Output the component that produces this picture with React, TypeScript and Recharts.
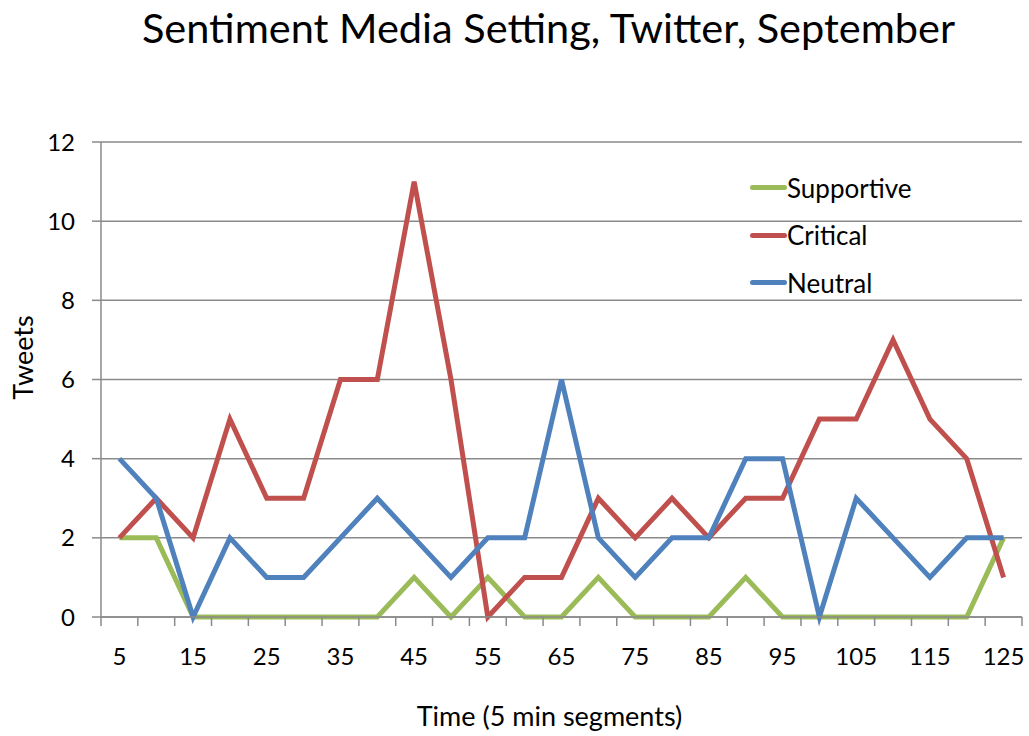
import React from "react";
import {
  CartesianGrid,
  Label,
  Line,
  LineChart,
  XAxis,
  YAxis,
} from "recharts";

const times = [5, 10, 15, 20, 25, 30, 35, 40, 45, 50, 55, 60, 65, 70, 75, 80, 85, 90, 95, 100, 105, 110, 115, 120, 125];
const supportive = [2, 2, 0, 0, 0, 0, 0, 0, 1, 0, 1, 0, 0, 1, 0, 0, 0, 1, 0, 0, 0, 0, 0, 0, 2];
const critical = [2, 3, 2, 5, 3, 3, 6, 6, 11, 6, 0, 1, 1, 3, 2, 3, 2, 3, 3, 5, 5, 7, 5, 4, 1];
const neutral = [4, 3, 0, 2, 1, 1, 2, 3, 2, 1, 2, 2, 6, 2, 1, 2, 2, 4, 4, 0, 3, 2, 1, 2, 2];
const yTicks = [0, 2, 4, 6, 8, 10, 12];

const seriesList = [
  { key: "supportive", name: "Supportive", color: "#9bbb59" },
  { key: "critical", name: "Critical", color: "#c0504d" },
  { key: "neutral", name: "Neutral", color: "#4f81bd" },
];

const data = times.map((t, i) => ({
  time: t,
  supportive: supportive[i],
  critical: critical[i],
  neutral: neutral[i],
}));

const FONT = "Lato, 'Noto Sans', sans-serif";
const W = 1029;
const H = 736;
const PLOT_LEFT = 101;
const PLOT_RIGHT = 7;
const BAND = (W - PLOT_LEFT - PLOT_RIGHT) / times.length;
const GRAY = "#8a8a8a";

function TimeTick(props: any) {
  const { x, y, index, payload } = props;
  const left = x - BAND / 2;
  const right = x + BAND / 2;
  return (
    <g>
      <line x1={left} x2={left} y1={y} y2={y + 9} stroke={GRAY} strokeWidth={1.5} />
      {index === times.length - 1 && (
        <line x1={right} x2={right} y1={y} y2={y + 9} stroke={GRAY} strokeWidth={1.5} />
      )}
      {index % 2 === 0 && (
        <text x={x} y={y + 48} textAnchor="middle" fontSize={24} fontFamily={FONT} fill="#000">
          {payload.value}
        </text>
      )}
    </g>
  );
}

// axis titles sit a little off the plot's centre in the original
function TweetsLabel(props: any) {
  const { viewBox } = props;
  const cx = viewBox.x + 22;
  const cy = viewBox.y + viewBox.height / 2 - 22;
  return (
    <text
      x={cx}
      y={cy}
      transform={`rotate(-90, ${cx}, ${cy})`}
      textAnchor="middle"
      dominantBaseline="central"
      fontFamily={FONT}
      fontSize={27}
      fill="#000"
    >
      Tweets
    </text>
  );
}

function TimeLabel(props: any) {
  const { viewBox } = props;
  return (
    <text
      x={viewBox.x + viewBox.width / 2 - 12}
      y={viewBox.y + viewBox.height + 69}
      textAnchor="middle"
      fontFamily={FONT}
      fontSize={27}
      fill="#000"
    >
      Time (5 min segments)
    </text>
  );
}

// legend drawn as an overlay so it doesn't eat plot space
function LegendBox() {
  return (
    <div
      style={{
        position: "absolute",
        left: 750,
        top: 164,
        fontFamily: FONT,
        fontSize: 26,
        color: "#000",
      }}
    >
      {seriesList.map((s) => (
        <div key={s.key} style={{ display: "flex", alignItems: "center", height: 47.5 }}>
          <div style={{ width: 37, height: 5, background: s.color, borderRadius: 2.5 }} />
          <span>{s.name}</span>
        </div>
      ))}
    </div>
  );
}

export default function App() {
  return (
    <div style={{ position: "absolute", left: 0, top: 0, width: W, height: H, background: "#fff" }}>
      <div
        style={{
          position: "absolute",
          left: 0,
          top: 2,
          width: W,
          textAlign: "center",
          fontFamily: FONT,
          fontSize: 41.5,
          color: "#000",
          paddingLeft: 68,
          boxSizing: "border-box",
        }}
      >
        Sentiment Media Setting, Twitter, September
      </div>
      <LineChart
        width={W}
        height={H}
        data={data}
        margin={{ top: 142, right: PLOT_RIGHT, bottom: 79, left: 0 }}
      >
        <CartesianGrid vertical={false} stroke={GRAY} strokeWidth={1.5} />
        <XAxis
          dataKey="time"
          type="category"
          interval={0}
          padding={{ left: BAND / 2, right: BAND / 2 }}
          axisLine={{ stroke: GRAY, strokeWidth: 1.5 }}
          tickLine={false}
          tickSize={0}
          tickMargin={0}
          tick={<TimeTick />}
          height={40}
        >
          <Label content={<TimeLabel />} />
        </XAxis>
        <YAxis
          domain={[0, 12]}
          ticks={yTicks}
          width={PLOT_LEFT}
          axisLine={{ stroke: GRAY, strokeWidth: 1.5 }}
          tickLine={{ stroke: GRAY, strokeWidth: 1.5 }}
          tickSize={9}
          tickMargin={17}
          tick={{ fontFamily: FONT, fontSize: 24, fill: "#000" }}
        >
          <Label content={<TweetsLabel />} />
        </YAxis>
        {seriesList.map((s) => (
          <Line
            key={s.key}
            dataKey={s.key}
            name={s.name}
            stroke={s.color}
            strokeWidth={5}
            dot={false}
            activeDot={false}
            isAnimationActive={false}
          />
        ))}
      </LineChart>
      <LegendBox />
    </div>
  );
}
